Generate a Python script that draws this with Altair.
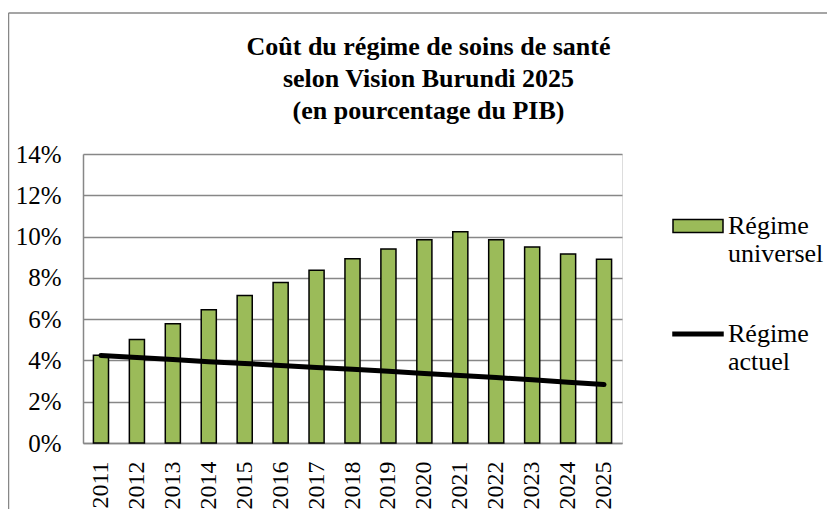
import altair as alt
import pandas as pd

years = ["2011", "2012", "2013", "2014", "2015", "2016", "2017", "2018",
         "2019", "2020", "2021", "2022", "2023", "2024", "2025"]
universel = [4.25, 5.01, 5.78, 6.46, 7.14, 7.77, 8.37, 8.92,
             9.40, 9.85, 10.23, 9.85, 9.50, 9.16, 8.90]
actuel = [4.24, 4.14, 4.04, 3.94, 3.85, 3.76, 3.66, 3.57,
          3.47, 3.37, 3.27, 3.17, 3.06, 2.94, 2.83]
series = ["Régime universel", "Régime actuel"]
y_ticks = [0, 2, 4, 6, 8, 10, 12, 14]
title_lines = ["Coût du régime de soins de santé",
               "selon Vision Burundi 2025",
               "(en pourcentage du PIB)"]

df = pd.DataFrame({"annee": years, "universel": universel, "actuel": actuel})
leg = pd.DataFrame({"serie": series})
frame_df = pd.DataFrame({"k": [0]})

FONT = "Liberation Serif"
GRID = "#878787"
GREEN = "#9BBB59"

x_enc = alt.X(
    "annee:N", sort=years, title=None,
    scale=alt.Scale(paddingInner=0.58, paddingOuter=0.29),
    axis=alt.Axis(labelAngle=-90, labelFont=FONT, labelFontSize=24,
                  labelColor="black", labelPadding=18, ticks=False,
                  domainColor=GRID, domainWidth=1.5),
)


def y_enc(field):
    return alt.Y(
        f"{field}:Q", title=None,
        scale=alt.Scale(domain=[0, 14], nice=False),
        axis=alt.Axis(values=y_ticks, labelExpr="datum.value + '%'",
                      labelFont=FONT, labelFontSize=25, labelColor="black",
                      labelPadding=22, ticks=False, grid=True,
                      gridColor=GRID, gridWidth=1.5,
                      domainColor=GRID, domainWidth=1.5),
    )


bars = alt.Chart(df).mark_bar(color=GREEN, stroke="black", strokeWidth=1.5).encode(
    x=x_enc, y=y_enc("universel"))

line = alt.Chart(df).mark_line(color="black", strokeWidth=5, strokeCap="round").encode(
    x=x_enc, y=y_enc("actuel"))

rect_path = "M-1,-0.26H1V0.26H-1Z"
line_path = "M-1,-0.07H1V0.07H-1Z"

leg_props = dict(
    title=None, orient="none", legendX=589, legendY=46, padding=0,
    symbolSize=2500, symbolOpacity=1,
    labelFont=FONT, labelFontSize=26, labelColor="black",
    labelExpr="split(datum.label, ' ')", labelLimit=0, labelOffset=4,
    rowPadding=41,
)

legend_layer = alt.Chart(leg).mark_point(
    filled=True, stroke="black", strokeWidth=1.5, opacity=0).encode(
    fill=alt.Fill("serie:N", sort=series,
                  scale=alt.Scale(domain=series, range=[GREEN, "black"]),
                  legend=alt.Legend(**leg_props)),
    shape=alt.Shape("serie:N", sort=series,
                    scale=alt.Scale(domain=series, range=[rect_path, line_path]),
                    legend=alt.Legend(**leg_props)),
)

left_border = alt.Chart(frame_df).mark_rule(color=GRID, strokeWidth=1.5).encode(
    x=alt.value(-74.5), y=alt.value(-141), y2=alt.value(420))
top_border = alt.Chart(frame_df).mark_rule(color=GRID, strokeWidth=1.5).encode(
    x=alt.value(-74.5), x2=alt.value(744), y=alt.value(-141))

chart = alt.layer(bars, line, legend_layer, left_border, top_border).properties(
    width=539, height=289,
    autosize="none",
    padding={"left": 75, "top": 146, "right": 205, "bottom": 66},
    title=alt.TitleParams(text=title_lines, font=FONT, fontSize=26,
                          fontWeight="bold", color="black", lineHeight=32,
                          anchor="middle", frame="group", dx=76, dy=138, offset=26),
).configure_view(stroke=None).configure(
    style={"guide-label": {"lineHeight": 28}})

chart.save("out.html", embed_options={"renderer": "svg", "actions": False})
